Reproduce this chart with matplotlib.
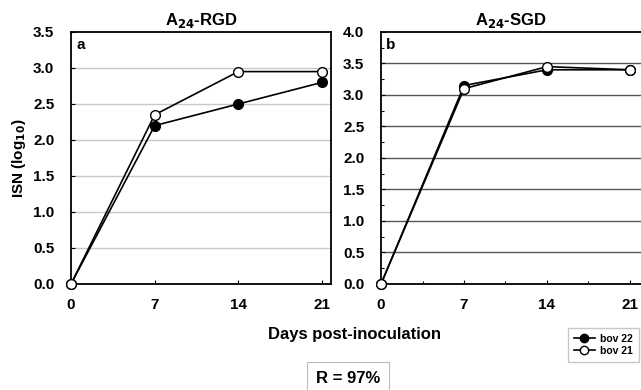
import matplotlib.pyplot as plt
from matplotlib.ticker import MultipleLocator
from matplotlib.lines import Line2D

plt.rcParams['font.family'] = ['Liberation Sans', 'DejaVu Sans']
plt.rcParams['font.weight'] = 'bold'

DAYS = [0, 7, 14, 21]
# panel a: A24-RGD
RGD_BOV22 = [0.0, 2.2, 2.5, 2.8]
RGD_BOV21 = [0.0, 2.35, 2.95, 2.95]
# panel b: A24-SGD
SGD_BOV22 = [0.0, 3.15, 3.4, 3.4]
SGD_BOV21 = [0.0, 3.1, 3.45, 3.4]

fig = plt.figure(figsize=(6.41, 3.90), dpi=100)
ax_a = fig.add_axes([0.1108, 0.2718, 0.4056, 0.6462])
ax_b = fig.add_axes([0.5944, 0.2718, 0.4056, 0.6462])

panels = [
    (ax_a, RGD_BOV22, RGD_BOV21, 3.5, 'a', r'A$_{\mathbf{24}}$-RGD', '#c8c8c8', 21.75),
    (ax_b, SGD_BOV22, SGD_BOV21, 4.0, 'b', r'A$_{\mathbf{24}}$-SGD', '#555555', 21.93),
]
for ax, b22, b21, ymax, letter, title, gridc, xmax in panels:
    for y in [v * 0.5 for v in range(1, int(ymax / 0.5))]:
        ax.axhline(y, color=gridc, lw=1.0, zorder=1)
    ax.plot(DAYS, b22, '-o', color='k', mfc='k', mec='k', ms=7, lw=1.2,
            zorder=3, clip_on=False)
    ax.plot(DAYS, b21, '-o', color='k', mfc='w', mec='k', ms=7, lw=1.2,
            zorder=4, clip_on=False)
    ax.set_xlim(0, xmax)
    ax.set_ylim(0, ymax)
    ax.set_xticks(DAYS)
    ax.yaxis.set_major_locator(MultipleLocator(0.5))
    ax.yaxis.set_major_formatter(plt.FormatStrFormatter('%.1f'))
    if letter == 'b':
        ax.yaxis.set_minor_locator(MultipleLocator(0.25))
        ax.xaxis.set_minor_locator(MultipleLocator(3.5))
        ax.spines['right'].set_visible(False)
    ax.tick_params(which='both', direction='in', length=3, width=0.8,
                   labelsize=11)
    ax.tick_params(axis='y', pad=12)
    ax.tick_params(axis='x', pad=10)
    ax.tick_params(which='minor', length=2)
    for lab in ax.get_xticklabels() + ax.get_yticklabels():
        lab.set_fontweight('bold')
    for s in ax.spines.values():
        s.set_linewidth(1.3)
    ax.text(0.02, 0.975, letter, transform=ax.transAxes, ha='left', va='top',
            fontsize=11, fontweight='bold')
    ax.set_title(title, fontsize=12, fontweight='bold', pad=5)

ax_a.set_ylabel(r'ISN (log$_{\mathbf{10}}$)', fontsize=11, fontweight='bold',
                labelpad=4)
fig.text(0.553, 0.143, 'Days post-inoculation', ha='center', va='center',
         fontsize=12, fontweight='bold')

handles = [
    Line2D([], [], color='k', marker='o', mfc='k', mec='k', ms=6, lw=1.2),
    Line2D([], [], color='k', marker='o', mfc='w', mec='k', ms=6, lw=1.2),
]
fig.legend(handles, ['bov 22', 'bov 21'], loc='lower right',
           bbox_to_anchor=(1.005, 0.058), fontsize=7.5, handlelength=2.0,
           frameon=True, fancybox=False, edgecolor='#bbbbbb',
           labelspacing=0.2, borderpad=0.6, handletextpad=0.5)

fig.text(0.543, 0.03, 'R = 97%', ha='center', va='center', fontsize=12,
         fontweight='bold',
         bbox=dict(boxstyle='square,pad=0.55', fc='w', ec='#bbbbbb', lw=0.8))

fig.savefig('out.png', dpi=100)
